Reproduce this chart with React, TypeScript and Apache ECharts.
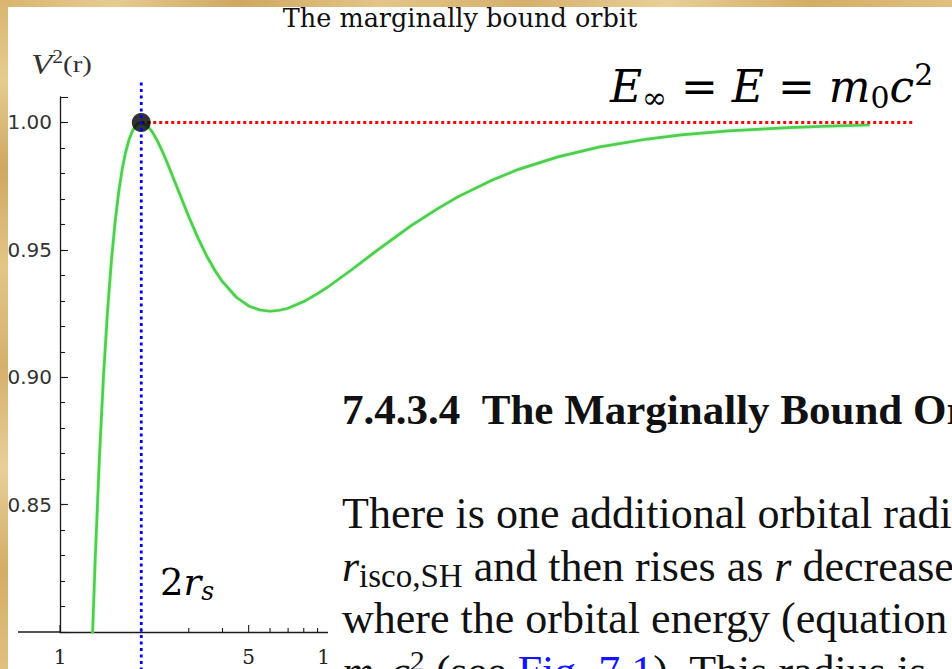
import React, { useEffect, useRef } from "react";
import * as echarts from "echarts";

// Effective potential V²(r) of the marginally bound orbit, r in units of r_s
const radius = [
  1.3, 1.32, 1.35, 1.4, 1.45, 1.5, 1.55, 1.6, 1.65, 1.7, 1.75, 1.8, 1.85, 1.9, 1.95,
  2.0, 2.1, 2.2, 2.3, 2.4, 2.5, 2.6, 2.8, 3.0, 3.25, 3.5, 3.75, 4.0, 4.5, 5.0, 5.5,
  6.0, 6.5, 7.0, 8.0, 9.0, 10, 12, 15, 20, 25, 30, 40, 50, 70, 100, 150, 200, 300,
  500, 700, 1000,
];
const potential = [
  0.777, 0.799, 0.8283, 0.8688, 0.9008, 0.9259, 0.9456, 0.9609, 0.9727, 0.9817,
  0.9883, 0.9931, 0.9964, 0.9985, 0.9997, 1.0, 0.9989, 0.9962, 0.9926, 0.9884,
  0.984, 0.9795, 0.9709, 0.963, 0.9545, 0.9475, 0.9419, 0.9375, 0.9314, 0.928,
  0.9264, 0.9259, 0.9263, 0.9271, 0.9297, 0.9328, 0.936, 0.9421, 0.9499, 0.9595,
  0.9661, 0.971, 0.9774, 0.9816, 0.9865, 0.9904, 0.9935, 0.9951, 0.9967, 0.998,
  0.9986, 0.999,
];

// Energy level E = m0c² and the turning point at r = 2 r_s
const energyR = [2, 1450];
const energyV = [1, 1];
const markerR = [2];
const markerV = [1];
const guideR = [2, 2];
const guideV = [1.0157, 0.7855];

// Axis ticks
const yTickLabels = ["0.85", "0.90", "0.95", "1.00"];
const xMajorTicks = [1, 5, 10, 50, 100, 500, 1000];
const xMajorLabels = ["1", "5", "10", "50", "100", "500", "1000"];
const xMinorTicks = [2, 3, 4, 6, 7, 8, 9, 20, 30, 40, 60, 70, 80, 90, 200, 300, 400, 600, 700, 800, 900];

const Y_MIN = 0.8;
const Y_MAX = 1.01;

const SERIF = '"Liberation Serif", "Times New Roman", serif';
const MATH = '"DejaVu Serif", serif';
const INK = "#1a1a1a";

const PARCHMENT_H =
  "linear-gradient(90deg, #d9b56f 0%, #e6cb90 12%, #cfa862 25%, #e3c587 40%, #d5b06c 55%, #e8cf98 70%, #d3ad66 85%, #e0c07f 100%)";
const PARCHMENT_V =
  "linear-gradient(180deg, #d9b56f 0%, #e6cb90 12%, #cfa862 25%, #e3c587 40%, #d5b06c 55%, #e8cf98 70%, #d3ad66 85%, #e0c07f 100%)";

const BODY_SIZE = 44;
const bodyRich = {
  n: { fontFamily: SERIF, fontSize: BODY_SIZE, lineHeight: 52, fill: "#111" },
  i: { fontFamily: SERIF, fontSize: BODY_SIZE, lineHeight: 52, fontStyle: "italic", fill: "#111" },
  sub: { fontFamily: SERIF, fontSize: 33, lineHeight: 24, verticalAlign: "bottom", fill: "#111" },
  sup: { fontFamily: SERIF, fontSize: 30, lineHeight: 31, verticalAlign: "top", fill: "#111" },
  link: { fontFamily: SERIF, fontSize: BODY_SIZE, lineHeight: 52, fill: "#1414ff" },
};

const mathRich = (size: number) => ({
  i: { fontFamily: MATH, fontSize: size, lineHeight: size * 1.2, fontStyle: "italic", fill: "#000" },
  n: { fontFamily: MATH, fontSize: size, lineHeight: size * 1.2, fill: "#000" },
  sub: { fontFamily: MATH, fontSize: size * 0.68, lineHeight: size * 0.55, verticalAlign: "bottom", fill: "#000" },
  subi: { fontFamily: MATH, fontSize: size * 0.68, lineHeight: size * 0.55, verticalAlign: "bottom", fontStyle: "italic", fill: "#000" },
  sup: { fontFamily: MATH, fontSize: size * 0.68, lineHeight: size * 0.7, verticalAlign: "top", fill: "#000" },
});

const bodyLine = (y: number, text: string) => ({
  type: "text",
  x: 342,
  y,
  style: { text, align: "left", verticalAlign: "middle", rich: bodyRich },
  z: 101,
});

function buildOption() {
  const curve = radius.map((r, k) => [r, potential[k]]);
  const energy = energyR.map((r, k) => [r, energyV[k]]);
  const marker = markerR.map((r, k) => [r, markerV[k]]);
  const guide = guideR.map((r, k) => [r, guideV[k]]);
  const xTicks = [...xMajorTicks, ...xMinorTicks].map((v) => [v, Y_MIN]);

  const yAxisBase = {
    type: "value",
    min: Y_MIN,
    max: Y_MAX,
    position: "left",
    splitLine: { show: false },
  };

  return {
    animation: false,
    backgroundColor: "#ffffff",
    grid: { left: 60, top: 97, width: 891, height: 535, containLabel: false, outerBoundsMode: "none" },
    xAxis: {
      type: "log",
      logBase: 10,
      min: 1,
      max: 2000,
      axisLine: { show: true, onZero: false, lineStyle: { color: INK, width: 1.3 } },
      axisTick: { show: false },
      axisLabel: { show: false },
      splitLine: { show: false },
      minorTick: { show: false },
    },
    yAxis: [
      {
        ...yAxisBase,
        interval: 0.01,
        axisLine: { show: true, lineStyle: { color: INK, width: 1.3 } },
        axisTick: { show: true, inside: true, length: 5, lineStyle: { color: INK, width: 1.1 } },
        axisLabel: {
          show: true,
          margin: 8,
          fontFamily: '"DejaVu Sans", sans-serif',
          fontSize: 20,
          color: "#333",
          showMinLabel: false,
          showMaxLabel: false,
          formatter: (v: number) => {
            const s = v.toFixed(2);
            return yTickLabels.includes(s) ? s : "";
          },
        },
      },
      {
        ...yAxisBase,
        interval: 0.05,
        axisLine: { show: false },
        axisTick: { show: true, inside: true, length: 8, lineStyle: { color: INK, width: 1.1 } },
        axisLabel: { show: false },
      },
    ],
    series: [
      {
        type: "custom",
        name: "xTicks",
        coordinateSystem: "cartesian2d",
        data: xTicks,
        clip: false,
        silent: true,
        z: 5,
        renderItem: (_params: any, api: any) => {
          const v = api.value(0);
          const p = api.coord([v, api.value(1)]);
          const idx = xMajorTicks.indexOf(v);
          const major = idx >= 0;
          const len = major ? 7 : 4;
          const children: any[] = [
            {
              type: "line",
              shape: { x1: p[0], y1: p[1], x2: p[0], y2: p[1] - len },
              style: { stroke: INK, lineWidth: 1.1 },
            },
          ];
          if (major) {
            children.push({
              type: "text",
              x: p[0],
              y: p[1] + 25,
              style: {
                text: xMajorLabels[idx],
                fontFamily: MATH,
                fontSize: 20,
                fill: "#222",
                align: "center",
                verticalAlign: "middle",
              },
            });
          }
          return { type: "group", children };
        },
      },
      {
        type: "line",
        name: "V2",
        data: curve,
        showSymbol: false,
        symbol: "none",
        lineStyle: { color: "#4fcd4f", width: 2.7, shadowBlur: 3, shadowColor: "rgba(90,220,90,0.45)" },
        z: 3,
      },
      {
        type: "line",
        name: "energy",
        data: energy,
        symbol: "none",
        lineStyle: { color: "#ff0000", width: 3, type: [3, 3] },
        z: 4,
      },
      {
        type: "scatter",
        name: "marker",
        data: marker,
        symbolSize: 19,
        itemStyle: { color: "#000" },
        z: 5,
      },
      {
        type: "line",
        name: "guide",
        data: guide,
        symbol: "none",
        clip: false,
        lineStyle: { color: "#0000ff", width: 2.8, type: [3, 3.5] },
        z: 6,
      },
    ],
    graphic: [
      // x axis continues left of the r = 1 origin
      { type: "line", shape: { x1: 18, y1: 632, x2: 60, y2: 632 }, style: { stroke: INK, lineWidth: 1.3 }, z: 10 },
      {
        type: "text",
        x: 460,
        y: 18,
        style: {
          text: "The marginally bound orbit",
          fontFamily: MATH,
          fontSize: 25.5,
          fill: "#111",
          align: "center",
          verticalAlign: "middle",
        },
        z: 20,
      },
      {
        type: "text",
        x: 31,
        y: 64,
        scaleX: 1.2,
        style: {
          text: "{v|V}{s|2}{p|(r)}",
          align: "left",
          verticalAlign: "middle",
          rich: {
            v: { fontFamily: SERIF, fontStyle: "italic", fontSize: 29, lineHeight: 32, fill: "#333" },
            s: { fontFamily: SERIF, fontSize: 18, lineHeight: 19, verticalAlign: "top", fill: "#333" },
            p: { fontFamily: SERIF, fontSize: 24, lineHeight: 32, fill: "#333" },
          },
        },
        z: 20,
      },
      {
        type: "text",
        x: 610,
        y: 86,
        style: {
          text: "{i|E}{sub|∞}{n|\u00a0=\u00a0}{i|E}{n|\u00a0=\u00a0}{i|m}{sub|0}{i|c}{sup|2}",
          align: "left",
          verticalAlign: "middle",
          rich: mathRich(44),
        },
        z: 20,
      },
      {
        type: "text",
        x: 160,
        y: 582,
        style: {
          text: "{n|2}{i|r}{subi|s}",
          align: "left",
          verticalAlign: "middle",
          rich: mathRich(37),
        },
        z: 20,
      },
      // overlaid textbook excerpt
      { type: "rect", shape: { x: 328, y: 380, width: 624, height: 289 }, style: { fill: "#ffffff" }, z: 100 },
      {
        type: "text",
        x: 342,
        y: 409,
        style: {
          text: "7.4.3.4\u2002The Marginally Bound Orbit",
          fontFamily: SERIF,
          fontWeight: "bold",
          fontSize: 43,
          fill: "#111",
          align: "left",
          verticalAlign: "middle",
        },
        z: 101,
      },
      bodyLine(513, "{n|There is one additional orbital radius}"),
      bodyLine(566, "{i|r}{sub|isco,SH}{n|\u00a0and then rises as\u00a0}{i|r}{n|\u00a0decreases}"),
      bodyLine(618, "{n|where the orbital energy (equation}"),
      bodyLine(671, "{i|m}{sub|0}{i|c}{sup|2}{n|\u00a0(see\u00a0}{link|Fig. 7.1}{n|). This radius is}"),
    ],
  };
}

export default function App() {
  const ref = useRef<HTMLDivElement>(null);
  useEffect(() => {
    if (!ref.current) return;
    const chart = echarts.init(ref.current, undefined, { renderer: "svg", width: 952, height: 669 });
    chart.setOption(buildOption() as any);
    return () => chart.dispose();
  }, []);
  return (
    <div style={{ position: "fixed", left: 0, top: 0, width: 952, height: 669, overflow: "hidden", background: "#fff" }}>
      <div ref={ref} style={{ position: "absolute", left: 0, top: 0, width: 952, height: 669 }} />
      <div style={{ position: "absolute", left: 0, top: 0, width: 952, height: 7, background: PARCHMENT_H }} />
      <div style={{ position: "absolute", left: 0, top: 0, width: 8, height: 669, background: PARCHMENT_V }} />
    </div>
  );
}
